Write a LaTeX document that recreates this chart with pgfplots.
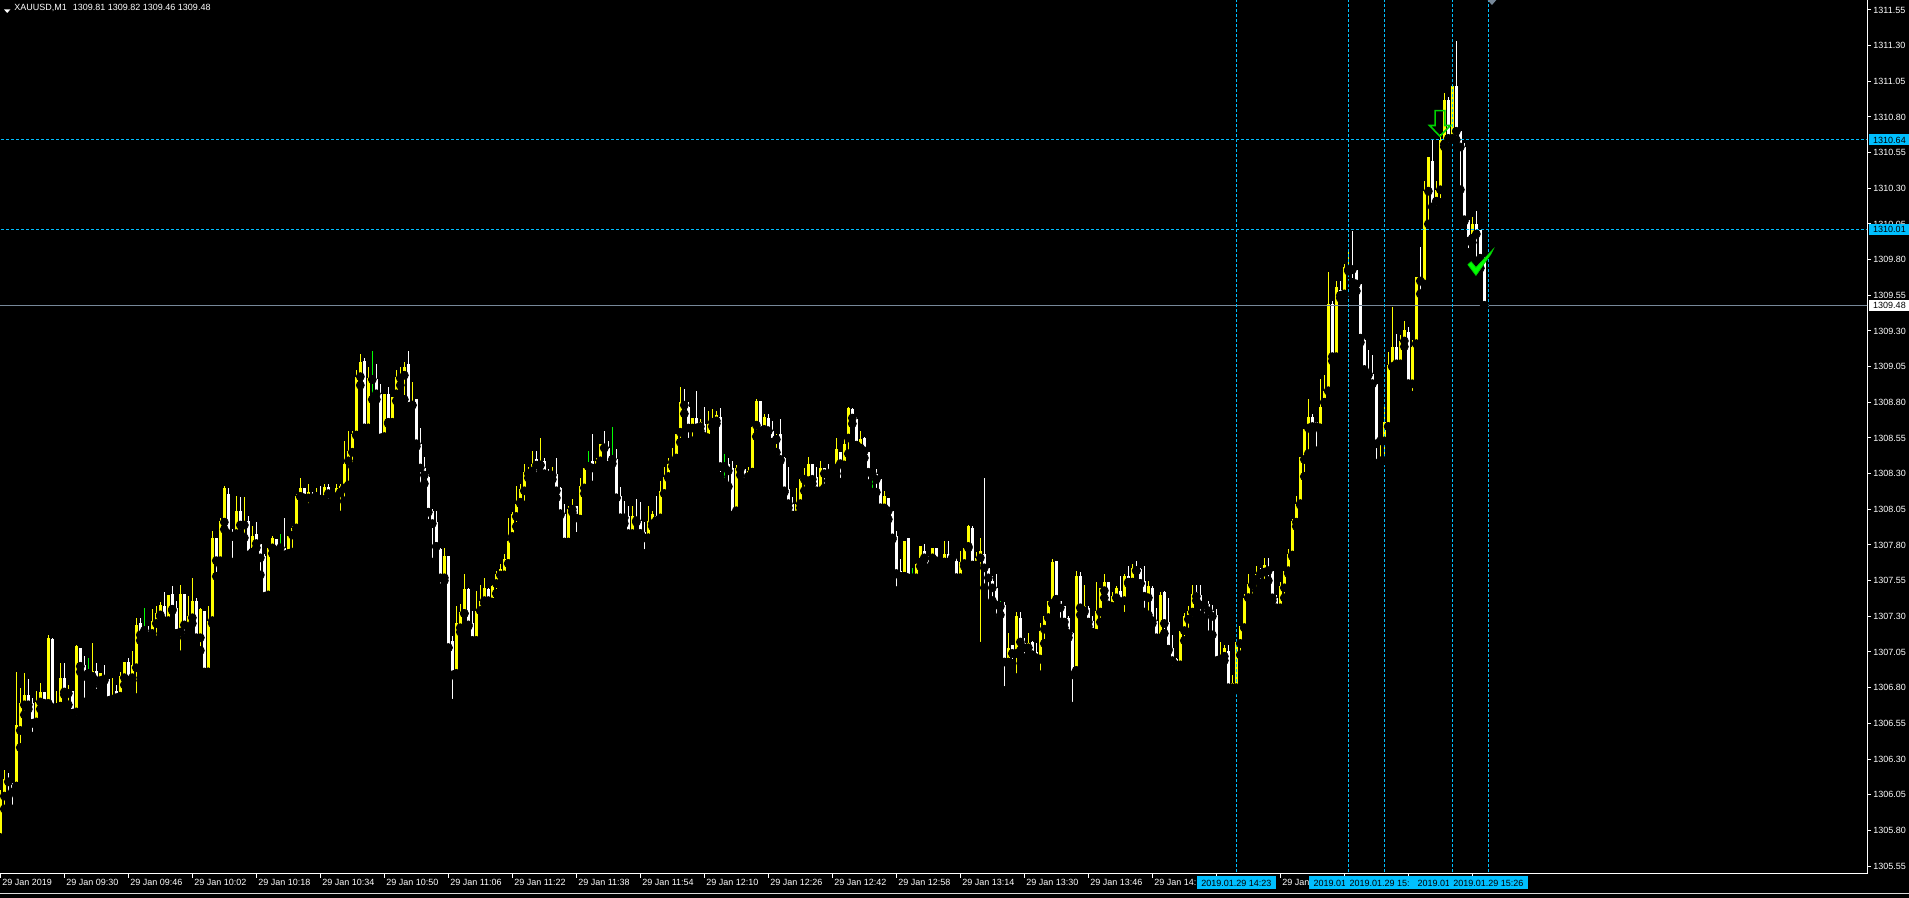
\documentclass[border=0pt]{standalone}
\usepackage{pgfplots}
\pgfplotsset{compat=1.18}
\usepackage{pgfplotstable}
\usepackage{fontspec}
\setmainfont{Liberation Sans}
\definecolor{dsb}{RGB}{0,191,255}
\definecolor{lsg}{RGB}{119,136,153}
\definecolor{lime}{RGB}{0,255,0}
\definecolor{bull}{RGB}{255,255,0}
\definecolor{arrowgreen}{RGB}{0,210,0}

\pgfplotstableread{
k o h l c
0 1305.75 1306.08 1305.72 1306.06
1 1306.04 1306.22 1305.95 1306.16
2 1306.16 1306.20 1306.04 1306.14
3 1306.13 1306.13 1305.95 1306.07
4 1306.11 1306.91 1306.11 1306.54
5 1306.50 1306.80 1306.38 1306.69
6 1306.68 1306.90 1306.61 1306.75
7 1306.75 1306.86 1306.65 1306.68
8 1306.69 1306.73 1306.46 1306.55
9 1306.56 1306.78 1306.55 1306.70
10 1306.70 1306.83 1306.65 1306.77
11 1306.77 1306.77 1306.65 1306.69
12 1306.69 1307.17 1306.65 1307.15
13 1307.14 1307.15 1306.66 1306.66
14 1306.66 1306.78 1306.66 1306.68
15 1306.67 1306.97 1306.67 1306.87
16 1306.87 1306.97 1306.75 1306.77
17 1306.76 1306.82 1306.68 1306.78
18 1306.78 1306.78 1306.62 1306.62
19 1306.63 1307.10 1306.57 1307.09
20 1307.08 1307.08 1306.91 1306.95
21 1306.96 1307.02 1306.70 1306.88
22 1306.90 1307.01 1306.87 1306.90
23 1306.88 1307.11 1306.86 1306.92
24 1306.92 1306.97 1306.76 1306.85
25 1306.85 1306.90 1306.81 1306.90
26 1306.88 1306.96 1306.85 1306.86
27 1306.86 1306.86 1306.69 1306.71
28 1306.72 1306.87 1306.70 1306.75
29 1306.78 1306.82 1306.70 1306.73
30 1306.74 1306.91 1306.71 1306.88
31 1306.87 1306.98 1306.82 1306.98
32 1306.98 1307.01 1306.83 1306.85
33 1306.87 1307.06 1306.85 1306.96
34 1306.94 1307.29 1306.73 1307.24
35 1307.25 1307.29 1307.13 1307.17
36 1307.20 1307.36 1307.18 1307.20
37 1307.20 1307.23 1307.11 1307.16
38 1307.18 1307.35 1307.16 1307.27
39 1307.25 1307.37 1307.13 1307.32
40 1307.31 1307.40 1307.30 1307.38
41 1307.37 1307.47 1307.21 1307.27
42 1307.27 1307.45 1307.23 1307.45
43 1307.46 1307.51 1307.34 1307.35
44 1307.36 1307.41 1307.18 1307.18
45 1307.19 1307.52 1307.03 1307.46
46 1307.46 1307.46 1307.15 1307.24
47 1307.22 1307.44 1307.19 1307.30
48 1307.29 1307.57 1307.25 1307.41
49 1307.41 1307.43 1307.13 1307.15
50 1307.15 1307.36 1307.06 1307.35
51 1307.34 1307.34 1306.88 1306.91
52 1306.91 1307.37 1306.91 1307.27
53 1307.27 1307.90 1307.25 1307.85
54 1307.85 1307.85 1307.58 1307.69
55 1307.69 1307.99 1307.66 1307.97
56 1307.96 1308.21 1307.91 1308.20
57 1308.16 1308.20 1307.85 1307.88
58 1307.88 1307.91 1307.68 1307.86
59 1307.88 1308.14 1307.87 1308.04
60 1308.04 1308.14 1307.88 1307.94
61 1307.94 1308.14 1307.85 1307.96
62 1307.97 1308.00 1307.73 1307.73
63 1307.75 1307.93 1307.74 1307.86
64 1307.88 1307.96 1307.78 1307.81
65 1307.81 1307.81 1307.59 1307.71
66 1307.72 1307.74 1307.43 1307.44
67 1307.45 1307.78 1307.44 1307.78
68 1307.78 1307.86 1307.74 1307.85
69 1307.84 1307.84 1307.75 1307.76
70 1307.78 1307.88 1307.72 1307.78
71 1307.78 1307.99 1307.73 1307.73
72 1307.74 1307.88 1307.74 1307.86
73 1307.87 1307.93 1307.75 1307.92
74 1307.92 1308.16 1307.91 1308.14
75 1308.14 1308.27 1308.14 1308.20
76 1308.20 1308.20 1308.09 1308.13
77 1308.13 1308.23 1308.06 1308.17
78 1308.16 1308.17 1308.12 1308.13
79 1308.14 1308.20 1308.08 1308.15
80 1308.14 1308.21 1308.11 1308.12
81 1308.12 1308.23 1308.07 1308.21
82 1308.21 1308.23 1308.09 1308.16
83 1308.16 1308.17 1308.11 1308.14
84 1308.14 1308.23 1308.10 1308.20
85 1308.17 1308.23 1308.01 1308.21
86 1308.20 1308.53 1308.11 1308.37
87 1308.39 1308.60 1308.22 1308.46
88 1308.45 1308.60 1308.35 1308.58
89 1308.57 1309.03 1308.57 1308.98
90 1308.98 1309.14 1308.92 1309.08
91 1309.09 1309.11 1308.62 1308.62
92 1308.62 1309.05 1308.62 1308.97
93 1308.96 1309.16 1308.82 1308.96
94 1308.96 1309.07 1308.82 1308.86
95 1308.86 1308.93 1308.55 1308.55
96 1308.56 1308.86 1308.52 1308.86
97 1308.86 1308.91 1308.65 1308.66
98 1308.66 1308.84 1308.65 1308.84
99 1308.86 1309.03 1308.81 1308.98
100 1308.97 1309.05 1308.92 1308.98
101 1308.99 1309.08 1308.82 1309.05
102 1309.07 1309.16 1308.77 1308.77
103 1308.78 1308.94 1308.78 1308.81
104 1308.82 1308.82 1308.49 1308.51
105 1308.51 1308.62 1308.20 1308.34
106 1308.34 1308.42 1308.23 1308.29
107 1308.28 1308.30 1307.95 1308.03
108 1308.04 1308.05 1307.68 1307.95
109 1307.96 1308.04 1307.79 1307.79
110 1307.77 1307.78 1307.50 1307.57
111 1307.57 1307.78 1307.55 1307.72
112 1307.72 1307.72 1307.08 1307.08
113 1307.13 1307.16 1306.69 1306.89
114 1306.90 1307.37 1306.87 1307.25
115 1307.22 1307.39 1307.19 1307.33
116 1307.32 1307.60 1307.32 1307.49
117 1307.49 1307.50 1307.23 1307.24
118 1307.25 1307.34 1307.13 1307.13
119 1307.13 1307.48 1307.13 1307.34
120 1307.34 1307.52 1307.34 1307.41
121 1307.41 1307.57 1307.39 1307.50
122 1307.49 1307.50 1307.39 1307.41
123 1307.40 1307.52 1307.39 1307.51
124 1307.53 1307.62 1307.46 1307.60
125 1307.59 1307.67 1307.53 1307.63
126 1307.59 1307.74 1307.59 1307.70
127 1307.67 1307.99 1307.67 1307.83
128 1307.86 1308.03 1307.84 1308.02
129 1308.00 1308.21 1307.93 1308.09
130 1308.10 1308.23 1308.09 1308.19
131 1308.18 1308.37 1308.08 1308.31
132 1308.30 1308.35 1308.27 1308.32
133 1308.32 1308.46 1308.27 1308.37
134 1308.40 1308.46 1308.28 1308.36
135 1308.36 1308.55 1308.36 1308.39
136 1308.39 1308.41 1308.25 1308.30
137 1308.32 1308.33 1308.23 1308.29
138 1308.29 1308.35 1308.26 1308.31
139 1308.30 1308.41 1308.13 1308.18
140 1308.20 1308.21 1308.01 1308.02
141 1308.02 1308.09 1307.82 1307.82
142 1307.82 1308.07 1307.82 1308.05
143 1308.05 1308.12 1308.03 1308.07
144 1308.07 1308.07 1307.86 1307.99
145 1307.98 1308.27 1307.98 1308.21
146 1308.20 1308.34 1308.16 1308.34
147 1308.35 1308.46 1308.35 1308.35
148 1308.39 1308.58 1308.22 1308.34
149 1308.34 1308.41 1308.34 1308.39
150 1308.39 1308.51 1308.37 1308.51
151 1308.51 1308.60 1308.48 1308.48
152 1308.48 1308.53 1308.35 1308.36
153 1308.40 1308.63 1308.37 1308.40
154 1308.40 1308.47 1308.13 1308.13
155 1308.14 1308.21 1307.99 1307.99
156 1308.00 1308.11 1307.95 1307.99
157 1308.00 1308.07 1307.82 1307.88
158 1307.88 1308.07 1307.85 1308.00
159 1307.99 1308.12 1307.96 1307.97
160 1307.97 1308.10 1307.88 1307.88
161 1307.89 1307.96 1307.74 1307.85
162 1307.85 1308.07 1307.85 1307.97
163 1307.95 1308.04 1307.93 1308.02
164 1308.00 1308.14 1307.97 1307.97
165 1307.99 1308.25 1307.97 1308.18
166 1308.16 1308.35 1308.16 1308.28
167 1308.28 1308.41 1308.27 1308.37
168 1308.38 1308.48 1308.35 1308.41
169 1308.41 1308.58 1308.37 1308.58
170 1308.59 1308.91 1308.52 1308.80
171 1308.80 1308.89 1308.72 1308.78
172 1308.77 1308.80 1308.52 1308.62
173 1308.62 1308.69 1308.53 1308.69
174 1308.69 1308.88 1308.62 1308.62
175 1308.63 1308.68 1308.60 1308.66
176 1308.65 1308.77 1308.56 1308.56
177 1308.55 1308.74 1308.55 1308.65
178 1308.66 1308.75 1308.63 1308.68
179 1308.67 1308.74 1308.65 1308.71
180 1308.70 1308.76 1308.28 1308.35
181 1308.35 1308.44 1308.24 1308.35
182 1308.37 1308.41 1308.21 1308.32
183 1308.34 1308.39 1307.97 1308.01
184 1308.04 1308.36 1308.02 1308.34
185 1308.33 1308.34 1308.29 1308.33
186 1308.33 1308.33 1308.20 1308.24
187 1308.28 1308.35 1308.25 1308.32
188 1308.31 1308.64 1308.31 1308.63
189 1308.64 1308.82 1308.56 1308.81
190 1308.81 1308.81 1308.58 1308.60
191 1308.61 1308.72 1308.57 1308.70
192 1308.69 1308.72 1308.60 1308.60
193 1308.60 1308.67 1308.52 1308.52
194 1308.54 1308.58 1308.45 1308.56
195 1308.58 1308.68 1308.39 1308.40
196 1308.41 1308.42 1308.17 1308.18
197 1308.19 1308.35 1308.06 1308.09
198 1308.09 1308.14 1307.96 1308.01
199 1308.01 1308.20 1308.01 1308.09
200 1308.09 1308.27 1308.06 1308.26
201 1308.26 1308.34 1308.18 1308.27
202 1308.25 1308.42 1308.23 1308.37
203 1308.37 1308.37 1308.23 1308.26
204 1308.28 1308.35 1308.13 1308.18
205 1308.18 1308.39 1308.14 1308.34
206 1308.34 1308.34 1308.20 1308.30
207 1308.32 1308.37 1308.25 1308.30
208 1308.32 1308.34 1308.31 1308.34
209 1308.34 1308.55 1308.30 1308.47
210 1308.45 1308.45 1308.24 1308.37
211 1308.36 1308.56 1308.36 1308.51
212 1308.55 1308.77 1308.44 1308.76
213 1308.75 1308.76 1308.65 1308.69
214 1308.68 1308.70 1308.46 1308.50
215 1308.48 1308.60 1308.48 1308.54
216 1308.55 1308.56 1308.41 1308.46
217 1308.45 1308.45 1308.23 1308.31
218 1308.30 1308.30 1308.17 1308.30
219 1308.30 1308.33 1308.17 1308.26
220 1308.26 1308.26 1308.06 1308.06
221 1308.06 1308.18 1308.05 1308.14
222 1308.13 1308.13 1307.98 1308.04
223 1308.04 1308.04 1307.84 1307.85
224 1307.86 1307.90 1307.48 1307.60
225 1307.62 1307.70 1307.58 1307.58
226 1307.58 1307.83 1307.58 1307.83
227 1307.85 1307.85 1307.55 1307.57
228 1307.57 1307.64 1307.53 1307.57
229 1307.57 1307.68 1307.55 1307.67
230 1307.68 1307.79 1307.65 1307.79
231 1307.76 1307.81 1307.70 1307.71
232 1307.71 1307.72 1307.64 1307.64
233 1307.71 1307.78 1307.67 1307.78
234 1307.78 1307.78 1307.66 1307.69
235 1307.68 1307.68 1307.62 1307.67
236 1307.68 1307.83 1307.68 1307.74
237 1307.74 1307.83 1307.68 1307.68
238 1307.71 1307.72 1307.71 1307.71
239 1307.69 1307.71 1307.57 1307.57
240 1307.57 1307.76 1307.57 1307.68
241 1307.67 1307.78 1307.65 1307.78
242 1307.79 1307.94 1307.78 1307.93
243 1307.92 1307.93 1307.64 1307.66
244 1307.66 1307.75 1307.64 1307.71
245 1307.71 1307.85 1307.09 1307.76
246 1307.74 1308.27 1307.50 1307.64
247 1307.64 1307.64 1307.38 1307.57
248 1307.55 1307.58 1307.41 1307.50
249 1307.50 1307.60 1307.27 1307.38
250 1307.37 1307.41 1307.31 1307.37
251 1307.38 1307.40 1306.78 1306.98
252 1306.98 1307.18 1306.97 1307.08
253 1307.10 1307.10 1306.97 1307.04
254 1307.04 1307.33 1306.87 1307.30
255 1307.29 1307.33 1307.06 1307.12
256 1307.11 1307.15 1307.01 1307.08
257 1307.08 1307.18 1307.02 1307.11
258 1307.12 1307.13 1307.03 1307.03
259 1307.05 1307.11 1306.98 1307.01
260 1307.00 1307.25 1306.89 1307.20
261 1307.21 1307.30 1307.11 1307.30
262 1307.29 1307.41 1307.29 1307.41
263 1307.39 1307.70 1307.39 1307.68
264 1307.69 1307.69 1307.40 1307.42
265 1307.41 1307.41 1307.26 1307.36
266 1307.37 1307.37 1307.22 1307.26
267 1307.29 1307.30 1307.15 1307.18
268 1307.18 1307.19 1306.67 1306.89
269 1306.92 1307.62 1306.92 1307.58
270 1307.58 1307.61 1307.31 1307.36
271 1307.34 1307.52 1307.33 1307.37
272 1307.36 1307.37 1307.23 1307.26
273 1307.27 1307.30 1307.17 1307.19
274 1307.18 1307.54 1307.18 1307.34
275 1307.33 1307.50 1307.26 1307.50
276 1307.48 1307.60 1307.43 1307.54
277 1307.54 1307.54 1307.36 1307.38
278 1307.37 1307.47 1307.32 1307.44
279 1307.43 1307.51 1307.36 1307.50
280 1307.48 1307.58 1307.39 1307.40
281 1307.41 1307.60 1307.30 1307.58
282 1307.58 1307.65 1307.53 1307.54
283 1307.54 1307.67 1307.53 1307.64
284 1307.64 1307.69 1307.62 1307.62
285 1307.63 1307.64 1307.53 1307.53
286 1307.55 1307.65 1307.33 1307.44
287 1307.43 1307.55 1307.31 1307.51
288 1307.50 1307.51 1307.25 1307.27
289 1307.27 1307.36 1307.09 1307.15
290 1307.15 1307.47 1307.12 1307.45
291 1307.47 1307.48 1307.18 1307.25
292 1307.26 1307.43 1307.06 1307.07
293 1307.08 1307.17 1306.92 1306.99
294 1307.00 1307.01 1306.94 1306.96
295 1306.96 1307.20 1306.92 1307.20
296 1307.20 1307.32 1307.13 1307.30
297 1307.28 1307.37 1307.19 1307.34
298 1307.33 1307.52 1307.27 1307.46
299 1307.47 1307.52 1307.41 1307.44
300 1307.45 1307.52 1307.31 1307.38
301 1307.40 1307.40 1307.29 1307.38
302 1307.39 1307.41 1307.17 1307.34
303 1307.34 1307.38 1307.17 1307.30
304 1307.31 1307.35 1306.97 1306.99
305 1307.00 1307.12 1306.97 1307.02
306 1307.02 1307.10 1306.99 1307.08
307 1307.06 1307.10 1306.75 1306.80
308 1306.80 1306.89 1306.76 1306.83
309 1306.80 1307.12 1306.79 1307.12
310 1307.11 1307.23 1307.03 1307.23
311 1307.22 1307.46 1307.22 1307.43
312 1307.43 1307.60 1307.43 1307.53
313 1307.52 1307.54 1307.43 1307.54
314 1307.56 1307.65 1307.48 1307.60
315 1307.61 1307.64 1307.53 1307.60
316 1307.61 1307.71 1307.53 1307.66
317 1307.64 1307.71 1307.55 1307.62
318 1307.62 1307.62 1307.41 1307.43
319 1307.43 1307.45 1307.32 1307.36
320 1307.36 1307.54 1307.34 1307.51
321 1307.50 1307.62 1307.43 1307.62
322 1307.62 1307.77 1307.60 1307.74
323 1307.73 1307.98 1307.72 1307.97
324 1307.96 1308.14 1307.93 1308.09
325 1308.09 1308.42 1308.08 1308.42
326 1308.40 1308.62 1308.28 1308.61
327 1308.62 1308.82 1308.44 1308.70
328 1308.70 1308.72 1308.60 1308.63
329 1308.66 1308.66 1308.46 1308.63
330 1308.62 1308.96 1308.62 1308.77
331 1308.80 1308.99 1308.80 1308.88
332 1308.88 1309.71 1308.88 1309.49
333 1309.49 1309.51 1309.09 1309.12
334 1309.12 1309.65 1309.10 1309.61
335 1309.59 1309.65 1309.53 1309.55
336 1309.56 1309.77 1309.55 1309.75
337 1309.73 1309.86 1309.72 1309.75
338 1309.75 1310.00 1309.64 1309.73
339 1309.73 1309.73 1309.58 1309.63
340 1309.63 1309.63 1309.22 1309.25
341 1309.24 1309.25 1309.00 1309.03
342 1309.03 1309.17 1308.99 1309.00
343 1309.00 1309.13 1308.93 1308.93
344 1308.93 1308.93 1308.37 1308.51
345 1308.53 1308.54 1308.39 1308.54
346 1308.53 1308.78 1308.39 1308.66
347 1308.63 1309.15 1308.63 1309.06
348 1309.05 1309.47 1309.05 1309.19
349 1309.19 1309.28 1309.03 1309.07
350 1309.07 1309.27 1309.06 1309.23
351 1309.23 1309.37 1309.19 1309.31
352 1309.29 1309.33 1308.93 1308.93
353 1308.93 1309.24 1308.85 1309.19
354 1309.21 1309.68 1309.21 1309.68
355 1309.68 1309.89 1309.56 1309.65
356 1309.63 1310.35 1309.58 1310.28
357 1310.28 1310.52 1310.05 1310.52
358 1310.49 1310.64 1310.17 1310.17
359 1310.21 1310.35 1310.15 1310.29
360 1310.29 1310.68 1310.20 1310.64
361 1310.61 1310.97 1310.59 1310.92
362 1310.92 1310.94 1310.59 1310.65
363 1310.65 1311.03 1310.64 1311.02
364 1311.02 1311.33 1310.64 1310.70
365 1310.70 1310.70 1310.29 1310.59
366 1310.59 1310.62 1310.07 1310.08
367 1310.08 1310.08 1309.85 1309.93
368 1309.95 1310.10 1309.92 1310.05
369 1310.05 1310.14 1309.79 1309.98
370 1310.01 1310.01 1309.74 1309.81
371 1309.81 1309.82 1309.46 1309.48
}\candles

\tikzset{lbl/.style={font=\fontsize{4.5}{5}\selectfont}}

\begin{document}
\begin{tikzpicture}
\fill[black] (0,-12pt) rectangle (954.5pt,437pt);
\path[use as bounding box] (0,-12pt) rectangle (954.5pt,437pt);
\begin{axis}[
  at={(0pt,0pt)}, anchor=south west,
  scale only axis, width=933.5pt, height=437pt,
  xmin=-0.083, xmax=466.67, ymin=1305.494, ymax=1311.62,
  axis x line*=bottom, axis y line*=right,
  axis line style={white, line width=0.5pt},
  tick style={white, line width=0.5pt},
  major tick length=2pt,
  tick align=outside,
  ytick={1305.55,1305.80,1306.05,1306.30,1306.55,1306.80,1307.05,1307.30,1307.55,1307.80,1308.05,1308.30,1308.55,1308.80,1309.05,1309.30,1309.55,1309.80,1310.05,1310.30,1310.55,1310.80,1311.05,1311.30,1311.55},
  yticklabels={1305.55,1305.80,1306.05,1306.30,1306.55,1306.80,1307.05,1307.30,1307.55,1307.80,1308.05,1308.30,1308.55,1308.80,1309.05,1309.30,1309.55,1309.80,1310.05,1310.30,1310.55,1310.80,1311.05,1311.30,1311.55},
  xtick={0,16,...,368},
  xticklabels={29 Jan 2019,29 Jan 09:30,29 Jan 09:46,29 Jan 10:02,29 Jan 10:18,29 Jan 10:34,29 Jan 10:50,29 Jan 11:06,29 Jan 11:22,29 Jan 11:38,29 Jan 11:54,29 Jan 12:10,29 Jan 12:26,29 Jan 12:42,29 Jan 12:58,29 Jan 13:14,29 Jan 13:30,29 Jan 13:46,29 Jan 14:,{},29 Jan,{},{},{}},
  tick label style={white, font=\fontsize{4.5}{5}\selectfont},
  yticklabel style={anchor=west, inner sep=0pt, xshift=1pt},
  xticklabel style={anchor=north west, inner sep=0pt, xshift=0.8pt, yshift=-0.5pt},
]
% wicks
\addplot[only marks, mark=none, restrict expr to domain={\thisrow{c}-\thisrow{o}}{0.001:100},
  error bars/.cd, y dir=plus, y explicit, error mark=none, error bar style={bull, line width=0.5pt}]
  table[x=k, y=l, y error plus expr=\thisrow{h}-\thisrow{l}] {\candles};
\addplot[only marks, mark=none, restrict expr to domain={\thisrow{o}-\thisrow{c}}{0.001:100},
  error bars/.cd, y dir=plus, y explicit, error mark=none, error bar style={white, line width=0.5pt}]
  table[x=k, y=l, y error plus expr=\thisrow{h}-\thisrow{l}] {\candles};
\addplot[only marks, mark=none, restrict expr to domain={abs(\thisrow{o}-\thisrow{c})}{0:0.001},
  error bars/.cd, y dir=plus, y explicit, error mark=none, error bar style={lime, line width=0.5pt}]
  table[x=k, y=l, y error plus expr=\thisrow{h}-\thisrow{l}] {\candles};
% bodies
\addplot[only marks, mark=none, restrict expr to domain={\thisrow{c}-\thisrow{o}}{0.001:100},
  error bars/.cd, y dir=plus, y explicit, error mark=none, error bar style={bull, line width=1.5pt}]
  table[x=k, y=o, y error plus expr=\thisrow{c}-\thisrow{o}] {\candles};
\addplot[only marks, mark=none, restrict expr to domain={\thisrow{o}-\thisrow{c}}{0.001:100},
  error bars/.cd, y dir=plus, y explicit, error mark=none, error bar style={white, line width=1.5pt}]
  table[x=k, y=c, y error plus expr=\thisrow{o}-\thisrow{c}] {\candles};
\addplot[only marks, mark=none, restrict expr to domain={abs(\thisrow{o}-\thisrow{c})}{0:0.001},
  error bars/.cd, y dir=plus, y explicit, error mark=none, error bar style={lime, line width=1.5pt}]
  table[x=k, y=o, y error plus expr=0.007] {\candles};
% horizontal lines
\addplot[dsb, line width=0.5pt, dash pattern=on 1.5pt off 1pt] coordinates {(-1,1310.64) (470,1310.64)};
\addplot[dsb, line width=0.5pt, dash pattern=on 1.5pt off 1pt] coordinates {(-1,1310.01) (470,1310.01)};
\addplot[lsg, line width=0.5pt] coordinates {(-1,1309.48) (470,1309.48)};
% vertical lines
\addplot[dsb, line width=0.5pt, dash pattern=on 1.5pt off 1pt] coordinates {(309,1305.4) (309,1311.7)};
\addplot[dsb, line width=0.5pt, dash pattern=on 1.5pt off 1pt] coordinates {(337,1305.4) (337,1311.7)};
\addplot[dsb, line width=0.5pt, dash pattern=on 1.5pt off 1pt] coordinates {(346,1305.4) (346,1311.7)};
\addplot[dsb, line width=0.5pt, dash pattern=on 1.5pt off 1pt] coordinates {(363,1305.4) (363,1311.7)};
\addplot[dsb, line width=0.5pt, dash pattern=on 1.5pt off 1pt] coordinates {(372,1305.4) (372,1311.7)};
% shift marker
\addplot[fill=lsg, draw=none] coordinates {(371.8,1311.62) (374.0,1311.62) (372.9,1311.585)};
% anchors for the arrow and check objects (drawn on top after the axis)
\coordinate (a1) at (axis cs:358.7,1310.845);
\coordinate (a2) at (axis cs:361.1,1310.845);
\coordinate (a3) at (axis cs:361.1,1310.74);
\coordinate (a4) at (axis cs:362.5,1310.74);
\coordinate (a5) at (axis cs:359.9,1310.665);
\coordinate (a6) at (axis cs:357.3,1310.74);
\coordinate (a7) at (axis cs:358.7,1310.74);
\coordinate (c1) at (axis cs:366.9,1309.765);
\coordinate (c2) at (axis cs:367.7,1309.785);
\coordinate (c3) at (axis cs:368.9,1309.745);
\coordinate (c4) at (axis cs:373.2,1309.872);
\coordinate (c5) at (axis cs:372.6,1309.838);
\coordinate (c6) at (axis cs:368.9,1309.69);
\coordinate (v1) at (axis cs:309,1305.494);
\coordinate (v2) at (axis cs:337,1305.494);
\coordinate (v3) at (axis cs:346,1305.494);
\coordinate (v4) at (axis cs:363,1305.494);
\coordinate (v5) at (axis cs:372,1305.494);
\coordinate (p1) at (axis cs:466.67,1310.64);
\coordinate (p2) at (axis cs:466.67,1310.01);
\coordinate (p3) at (axis cs:466.67,1309.48);
\end{axis}
% sell arrow and check mark on top of the candles
\draw[arrowgreen, line width=0.8pt, line join=miter] (a1) -- (a2) -- (a3) -- (a4) -- (a5) -- (a6) -- (a7) -- cycle;
\filldraw[fill=lime, draw=arrowgreen, line width=0.4pt, line join=miter] (c1) -- (c2) -- (c3) -- (c4) -- (c5) -- (c6) -- cycle;
\tikzset{tbox/.style={lbl, fill=dsb, text=black, inner xsep=2.2pt, inner ysep=1.6pt, text height=3.25pt, text depth=0pt}}
\node[tbox, anchor=north] at ([yshift=-1pt]v1) {2019.01.29 14:23};
\node[tbox, anchor=north west] at ([xshift=-19.75pt,yshift=-1pt]v2) {\makebox[13.6pt][l]{2019.01}};
\node[tbox, anchor=north west] at ([xshift=-19.75pt,yshift=-1pt]v3) {\makebox[29.6pt][l]{2019.01.29 15:}};
\node[tbox, anchor=north west] at ([xshift=-19.75pt,yshift=-1pt]v4) {\makebox[13.6pt][l]{2019.01}};
\node[tbox, anchor=north] at ([yshift=-1pt]v5) {2019.01.29 15:26};
\tikzset{pbox/.style={lbl, text=black, inner xsep=1.9pt, inner ysep=1.1pt, text height=3.25pt, text depth=0pt, anchor=west}}
\node[pbox, fill=dsb] at ([xshift=1pt]p1) {1310.64};
\node[pbox, fill=dsb] at ([xshift=1pt]p2) {1310.01};
\node[pbox, fill=white] at ([xshift=1pt]p3) {1309.48};
% title
\fill[white] (2pt,432.3pt) -- (5.2pt,432.3pt) -- (3.6pt,430.5pt) -- cycle;
\node[lbl, white, anchor=west, inner sep=0pt] at (7pt,432.8pt) {XAUUSD,M1\hspace{3pt}1309.81 1309.82 1309.46 1309.48};
% bottom frame
\draw[white!85!black, line width=0.6pt] (0,-9.8pt) -- (954.5pt,-9.8pt);
\end{tikzpicture}
\end{document}
